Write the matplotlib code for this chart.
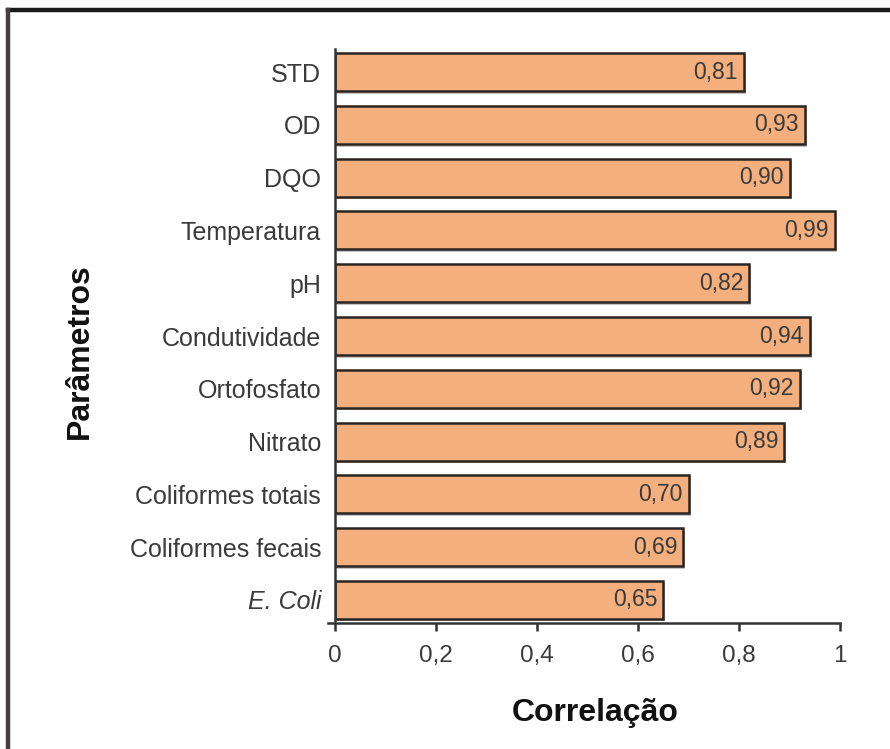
import matplotlib
matplotlib.use("Agg")
import matplotlib.pyplot as plt
from matplotlib.lines import Line2D

plt.rcParams['font.family'] = ['Liberation Sans', 'DejaVu Sans']

categories = ["E. Coli", "Coliformes fecais", "Coliformes totais", "Nitrato",
              "Ortofosfato", "Condutividade", "pH", "Temperatura", "DQO", "OD", "STD"]
values = [0.65, 0.69, 0.70, 0.89, 0.92, 0.94, 0.82, 0.99, 0.90, 0.93, 0.81]
xticks = [0, 0.2, 0.4, 0.6, 0.8, 1.0]
xticklabels = ["0", "0,2", "0,4", "0,6", "0,8", "1"]

W, H = 890, 749
fig = plt.figure(figsize=(W / 100, H / 100), dpi=100)
ax = fig.add_axes([335 / W, 1 - 623 / H, 505 / W, (623 - 49) / H])

bar_color = "#F3AF7E"
edge_color = "#2a2420"
ypos = list(range(len(categories)))

# soft drop shadow beneath each bar
ax.barh([y - 0.05 for y in ypos], values, height=0.72, left=0.004,
        color="#c4c4c4", edgecolor="none", zorder=1)
ax.barh(ypos, values, height=0.72, color=bar_color, edgecolor=edge_color,
        linewidth=1.8, zorder=2)

for y, v in zip(ypos, values):
    ax.text(v - 0.012, y, f"{v:.2f}".replace(".", ","), ha="right", va="center",
            fontsize=16.5, color="#3a3a3a", zorder=3)

ax.set_ylim(-0.44, len(categories) - 0.56)
ax.set_xticks(xticks)
ax.set_xticklabels(xticklabels, fontsize=17.5, color="#3a3a3a")
ax.set_yticks(ypos)
ax.set_yticklabels(categories, fontsize=18, color="#3a3a3a")
ax.get_yticklabels()[0].set_style("italic")
ax.tick_params(axis="y", length=0, pad=10)
ax.tick_params(axis="x", length=6, width=1.8, direction="out", pad=10, color="#333333")

for s in ["top", "right"]:
    ax.spines[s].set_visible(False)
ax.spines["left"].set_linewidth(1.8)
ax.spines["left"].set_color("#333333")
ax.spines["bottom"].set_linewidth(1.8)
ax.spines["bottom"].set_color("#333333")
ax.spines["bottom"].set_bounds(-0.014, 1)
ax.set_xlim(-0.0001, 1)

fig.text(595 / W, 1 - 713 / H, "Correlação", ha="center", va="center",
         fontsize=23, fontweight="bold", color="#111111")
fig.text(80 / W, 1 - 351 / H, "Parâmetros", ha="center", va="center",
         rotation=90, fontsize=23, fontweight="bold", color="#111111")

# frame lines on top and left edges of the figure
fig.add_artist(Line2D([8 / W, 1], [1 - 9.5 / H, 1 - 9.5 / H], color="#1a1a1a", lw=3.2))
fig.add_artist(Line2D([8 / W, 8 / W], [0, 1 - 9.5 / H], color="#444040", lw=3.2))

fig.savefig("out.png", dpi=100)
